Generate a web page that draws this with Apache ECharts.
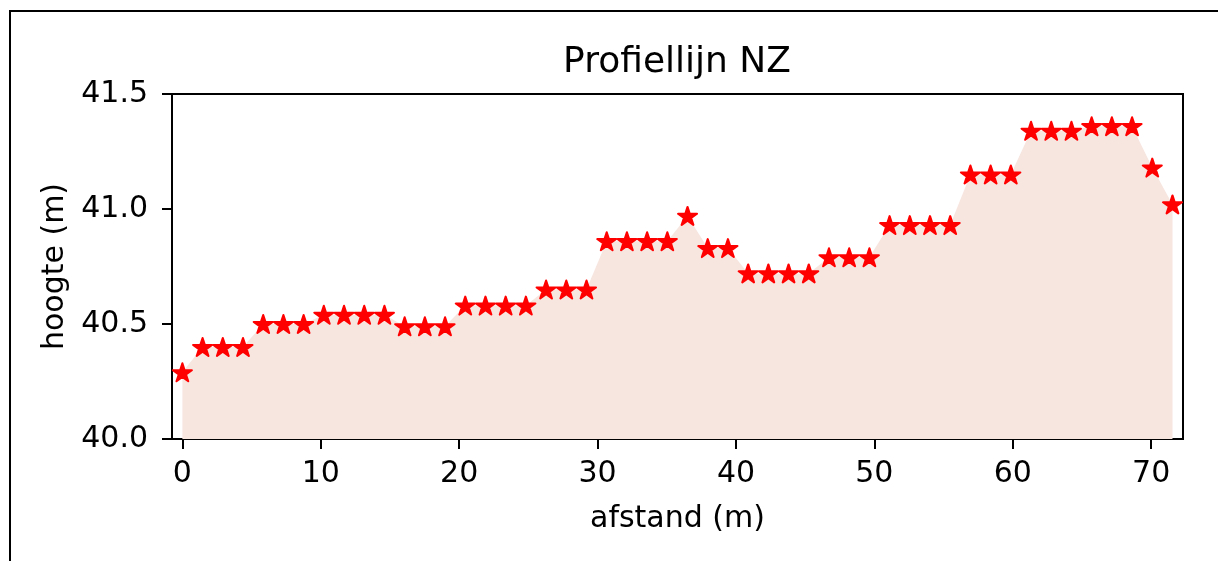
<!DOCTYPE html>
<html>
<head>
<meta charset="utf-8">
<script src="https://cdn.jsdelivr.net/npm/echarts@6/dist/echarts.min.js"></script>
<style>
html,body{margin:0;padding:0;background:#fff;}
#chart{width:1218px;height:561px;}
</style>
</head>
<body>
<div id="chart"></div>
<script>
// distance along the profile (m)
var afstand = [0, 1.46, 2.92, 4.38, 5.84, 7.3, 8.76, 10.22, 11.68, 13.14, 14.6, 16.06, 17.52, 18.98,
  20.44, 21.9, 23.36, 24.82, 26.28, 27.74, 29.2, 30.66, 32.12, 33.58, 35.04, 36.5, 37.96, 39.42,
  40.88, 42.34, 43.8, 45.26, 46.72, 48.18, 49.64, 51.1, 52.56, 54.02, 55.48, 56.94, 58.4, 59.86,
  61.32, 62.78, 64.24, 65.7, 67.16, 68.62, 70.08, 71.54];
// height (m)
var hoogte = [40.29, 40.40, 40.40, 40.40, 40.50, 40.50, 40.50, 40.54, 40.54, 40.54, 40.54,
  40.49, 40.49, 40.49, 40.58, 40.58, 40.58, 40.58, 40.65, 40.65, 40.65, 40.86, 40.86, 40.86, 40.86,
  40.97, 40.83, 40.83, 40.72, 40.72, 40.72, 40.72, 40.79, 40.79, 40.79, 40.93, 40.93, 40.93, 40.93,
  41.15, 41.15, 41.15, 41.34, 41.34, 41.34, 41.36, 41.36, 41.36, 41.18, 41.02];
var xTicks = [0, 10, 20, 30, 40, 50, 60, 70];
var yTicks = [40.0, 40.5, 41.0, 41.5];
var titel = 'Profiellijn NZ';
var xNaam = 'afstand (m)';
var yNaam = 'hoogte (m)';

var starPath = 'path://M0,-100 L22.45,-30.9 L95.1,-30.9 L36.33,11.8 L58.8,80.9 L0,38.2 L-58.8,80.9 L-36.33,11.8 L-95.1,-30.9 L-22.45,-30.9 Z';
var FONT = 'DejaVu Sans';

var data = afstand.map(function (x, i) { return [x, hoogte[i]]; });

var chart = echarts.init(document.getElementById('chart'), null, {renderer: 'canvas'});
chart.setOption({
  animation: false,
  backgroundColor: '#ffffff',
  textStyle: {fontFamily: FONT},
  grid: {
    left: 172, right: 35, top: 94, bottom: 122,
    show: true, borderColor: '#000', borderWidth: 2, backgroundColor: 'transparent'
  },
  graphic: [
    {
      type: 'rect', silent: true, z: 100,
      shape: {x: 10, y: 11, width: 1400, height: 800},
      style: {fill: 'none', stroke: '#000', lineWidth: 2}
    },
    {
      type: 'text', silent: true, z: 100,
      x: 677, y: 63,
      style: {
        text: titel, fill: '#000', font: '36px "DejaVu Sans"',
        textAlign: 'center', textVerticalAlign: 'middle'
      }
    }
  ],
  xAxis: {
    type: 'value',
    min: -0.75, max: 72.3,
    name: xNaam, nameLocation: 'middle', nameGap: 65,
    nameTextStyle: {fontSize: 30, color: '#000', fontFamily: FONT},
    axisLine: {show: true, onZero: false, lineStyle: {color: '#000', width: 2}},
    axisTick: {show: true, length: 10, lineStyle: {color: '#000', width: 2}, customValues: xTicks},
    axisLabel: {fontSize: 30, color: '#000', margin: 20, fontFamily: FONT, customValues: xTicks,
      formatter: function (v) { return String(Math.round(v)); }},
    splitLine: {show: false}
  },
  yAxis: {
    type: 'value',
    min: 40.0, max: 41.5, interval: 0.5,
    name: yNaam, nameLocation: 'middle', nameGap: 102,
    nameTextStyle: {fontSize: 30, color: '#000', fontFamily: FONT},
    axisLine: {show: true, onZero: false, lineStyle: {color: '#000', width: 2}},
    axisTick: {show: true, length: 10, lineStyle: {color: '#000', width: 2}},
    axisLabel: {fontSize: 30, color: '#000', margin: 24, fontFamily: FONT,
      formatter: function (v) { return v.toFixed(1); }},
    splitLine: {show: false}
  },
  series: [{
    type: 'line',
    data: data,
    symbol: starPath,
    symbolSize: [19, 18],
    showSymbol: true,
    lineStyle: {width: 0, opacity: 0},
    itemStyle: {color: '#ff0000', borderColor: '#ff0000', borderWidth: 2, borderJoin: 'round'},
    areaStyle: {color: '#f7e5e0', opacity: 1, origin: 'start'},
    clip: false,
    z: 2
  }]
});
</script>
</body>
</html>
